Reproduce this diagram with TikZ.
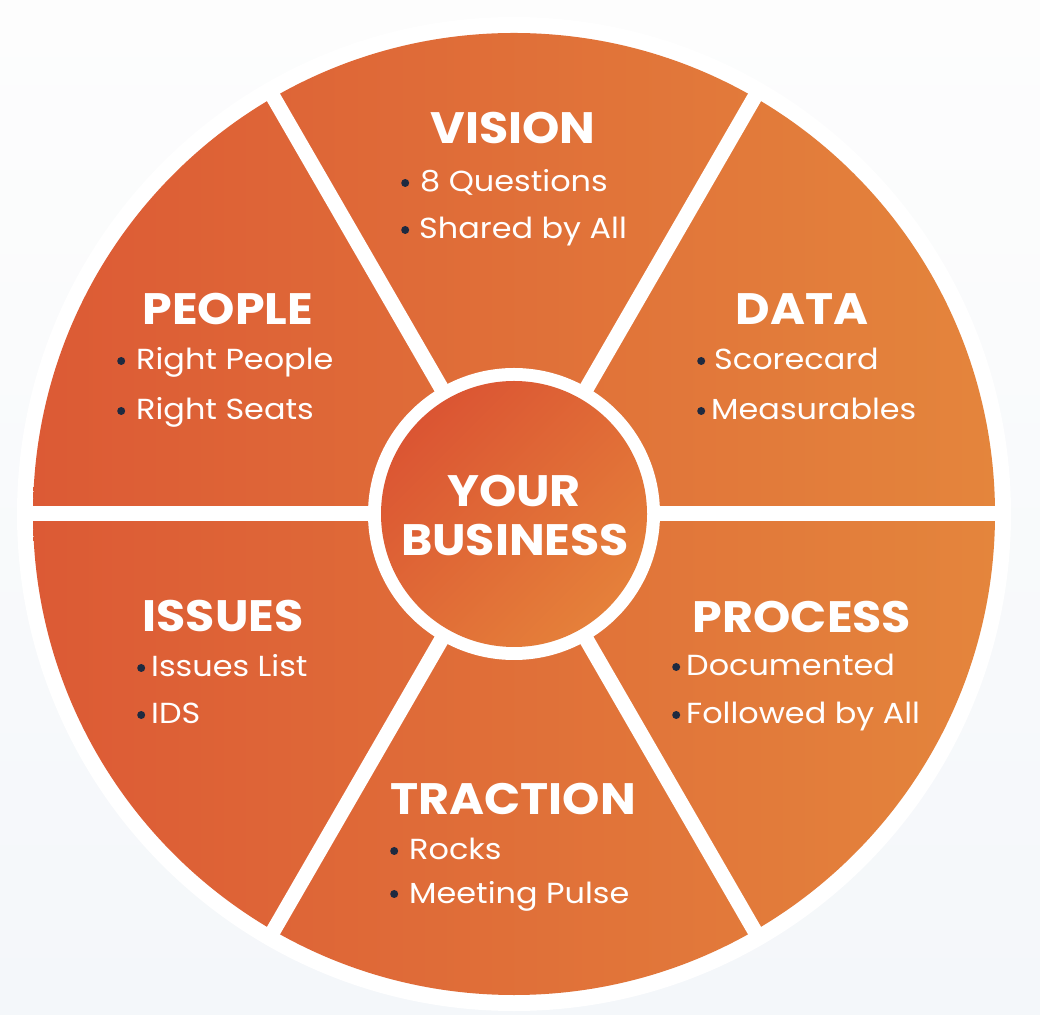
\documentclass[tikz,border=0pt]{standalone}
\usepackage{fontspec}
\setmainfont{Poppins}
\newfontfamily\headfont{Poppins}[FakeStretch=1.08]
\newfontfamily\bodyfont{Poppins}[FakeStretch=1.1]
\definecolor{orL}{HTML}{DC5A35}
\definecolor{orR}{HTML}{E4853C}
\definecolor{cenL}{HTML}{DB5533}
\definecolor{cenR}{HTML}{E5803A}
\definecolor{dotc}{HTML}{1E2A40}
\definecolor{bgT}{HTML}{FDFDFD}
\definecolor{bgB}{HTML}{F4F7FA}
\newcommand\bul{\tikz[baseline={(0,-9pt)}]\fill[dotc] (0,0) circle (4pt);}
\begin{document}
\begin{tikzpicture}[x=1pt,y=1pt,
  head/.style={text=white, font=\headfont\bfseries\fontsize{44}{44}\selectfont, anchor=base, inner sep=0pt},
  item/.style={text=white, font=\bodyfont\fontsize{29}{29}\selectfont, anchor=base west, inner sep=0pt},
  spoke/.style={white, line width=15pt}]
\useasboundingbox (0,0) rectangle (1040,1014);
\shade[top color=bgT, bottom color=bgB] (0,0) rectangle (1040,1014);
\coordinate (C) at (514,500);
\fill[white] (C) circle (497pt);
\shade[left color=orL, right color=orR] (C) circle (481pt);
\foreach \a in {0,60,...,300} \draw[spoke] (C) -- ++(\a:490pt);
\fill[white] (C) circle (146pt);
\shade[left color=cenL, right color=cenR, shading angle=45] (C) circle (133pt);
% center
\node[head] (your) at (514,507) {YOUR};
\node[head] (business) at (515,458) {BUSINESS};
% vision
\node[head] (vision) at (513,870) {VISION};
\node[item] (v1) at (401,822) {\bul\hspace{11pt}8 Questions};
\node[item] (v2) at (401,775) {\bul\hspace{10pt}Shared by All};
% people
\node[head] (people) at (228,689) {PEOPLE};
\node[item] (p1) at (117,644) {\bul\hspace{11pt}Right People};
\node[item] (p2) at (117,594) {\bul\hspace{11pt}Right Seats};
% data
\node[head] (data) at (802,689) {DATA};
\node[item] (d1) at (697,644) {\bul\hspace{9pt}Scorecard};
\node[item] (d2) at (697,594) {\bul\hspace{6pt}Measurables};
% issues
\node[head] (issues) at (223,382) {ISSUES};
\node[item] (i1) at (137,337) {\bul\hspace{6pt}Issues List};
\node[item] (i2) at (137,290) {\bul\hspace{6pt}IDS};
% process
\node[head] (process) at (802,381) {PROCESS};
\node[item] (pr1) at (672,338) {\bul\hspace{6pt}Documented};
\node[item] (pr2) at (672,290) {\bul\hspace{6pt}Followed by All};
% traction
\node[head] (traction) at (513,199) {TRACTION};
\node[item] (t1) at (390,154) {\bul\hspace{11pt}Rocks};
\node[item] (t2) at (390,111) {\bul\hspace{11pt}Meeting Pulse};
\end{tikzpicture}
\end{document}
